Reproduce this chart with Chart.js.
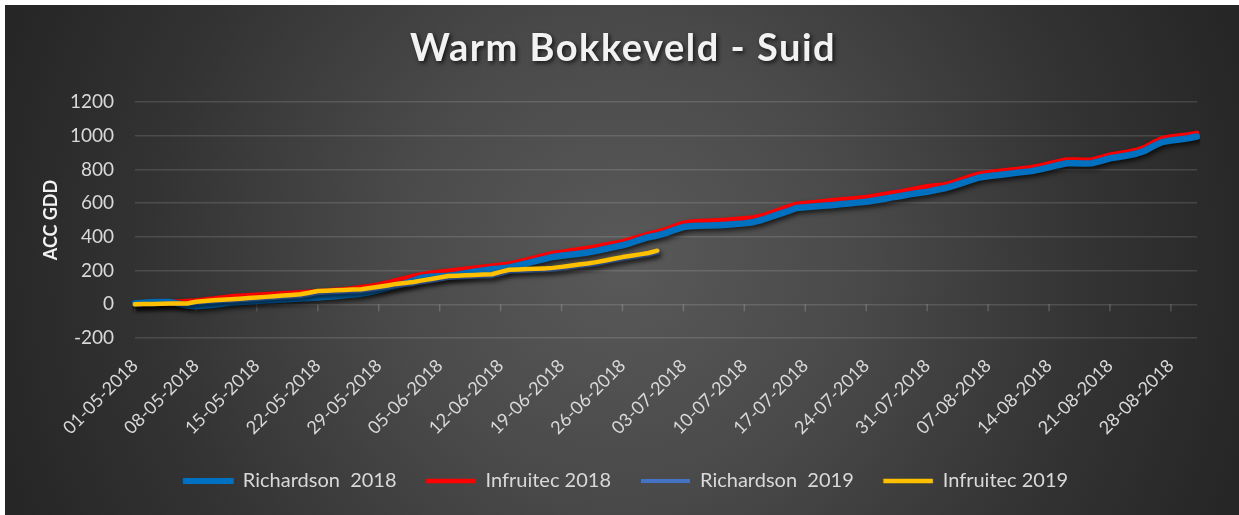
<!DOCTYPE html>
<html>
<head>
<meta charset="utf-8">
<script src="https://cdn.jsdelivr.net/npm/chart.js@4.4.1/dist/chart.umd.min.js"></script>
<style>
  html, body { margin: 0; padding: 0; background: #ffffff; }
  #wrap {
    position: absolute; left: 5px; top: 5px; width: 1234px; height: 510px;
    background: radial-gradient(circle at 50% 50%, #595959 0px, #4a4a4a 230px, #333333 470px, #262626 650px);
  }
</style>
</head>
<body>
<div id="wrap"><canvas id="c"></canvas></div>
<script>
const chartTitle = 'Warm Bokkeveld - Suid';
const yAxisTitle = 'ACC GDD';
const seriesNames = ['Richardson  2018', 'Infruitec 2018', 'Richardson  2019', 'Infruitec 2019'];

const categories = [
 '01-05-2018','02-05-2018','03-05-2018','04-05-2018','05-05-2018','06-05-2018','07-05-2018','08-05-2018','09-05-2018','10-05-2018',
 '11-05-2018','12-05-2018','13-05-2018','14-05-2018','15-05-2018','16-05-2018','17-05-2018','18-05-2018','19-05-2018','20-05-2018',
 '21-05-2018','22-05-2018','23-05-2018','24-05-2018','25-05-2018','26-05-2018','27-05-2018','28-05-2018','29-05-2018','30-05-2018','31-05-2018',
 '01-06-2018','02-06-2018','03-06-2018','04-06-2018','05-06-2018','06-06-2018','07-06-2018','08-06-2018','09-06-2018','10-06-2018',
 '11-06-2018','12-06-2018','13-06-2018','14-06-2018','15-06-2018','16-06-2018','17-06-2018','18-06-2018','19-06-2018','20-06-2018',
 '21-06-2018','22-06-2018','23-06-2018','24-06-2018','25-06-2018','26-06-2018','27-06-2018','28-06-2018','29-06-2018','30-06-2018',
 '01-07-2018','02-07-2018','03-07-2018','04-07-2018','05-07-2018','06-07-2018','07-07-2018','08-07-2018','09-07-2018','10-07-2018',
 '11-07-2018','12-07-2018','13-07-2018','14-07-2018','15-07-2018','16-07-2018','17-07-2018','18-07-2018','19-07-2018','20-07-2018',
 '21-07-2018','22-07-2018','23-07-2018','24-07-2018','25-07-2018','26-07-2018','27-07-2018','28-07-2018','29-07-2018','30-07-2018','31-07-2018',
 '01-08-2018','02-08-2018','03-08-2018','04-08-2018','05-08-2018','06-08-2018','07-08-2018','08-08-2018','09-08-2018','10-08-2018',
 '11-08-2018','12-08-2018','13-08-2018','14-08-2018','15-08-2018','16-08-2018','17-08-2018','18-08-2018','19-08-2018','20-08-2018',
 '21-08-2018','22-08-2018','23-08-2018','24-08-2018','25-08-2018','26-08-2018','27-08-2018','28-08-2018','29-08-2018','30-08-2018','31-08-2018'
];

// labels shown on the category axis
const tickLabels = ['01-05-2018','08-05-2018','15-05-2018','22-05-2018','29-05-2018','05-06-2018','12-06-2018','19-06-2018','26-06-2018',
 '03-07-2018','10-07-2018','17-07-2018','24-07-2018','31-07-2018','07-08-2018','14-08-2018','21-08-2018','28-08-2018'];

const yTicks = [-200, 0, 200, 400, 600, 800, 1000, 1200];

const richardson2018 = [
 5,9,12,13,14,4,-8,-12,-8,-3,3,
 10,13,16,20,24,26,28,31,34,37,
 40,44,48,53,58,63,72,84,98,110,
 124,140,158,164,167,170,176,184,193,201,
 208,213,218,230,243,256,268,281,288,294,
 300,307,317,328,339,350,365,382,398,408,
 422,442,458,464,466,467,469,472,476,480,
 487,500,518,535,552,571,576,580,584,588,
 593,598,603,608,616,625,634,642,652,660,
 667,678,688,702,719,736,752,760,766,772,
 778,784,790,800,812,825,836,837,835,837,
 851,866,874,883,893,910,938,962,972,978,
 985,995
];

const infruitec2018 = [
 0,3,6,9,12,14,17,20,26,32,38,
 44,47,50,53,57,60,63,66,69,72,
 75,79,83,87,92,99,106,115,126,140,
 152,165,176,184,190,196,202,208,214,220,
 226,232,238,250,262,275,288,301,308,316,
 323,331,340,350,360,370,385,400,415,428,
 442,462,480,488,491,493,495,499,503,507,
 512,522,540,558,576,592,598,603,609,614,
 618,623,628,633,641,650,659,667,677,687,
 697,703,708,722,740,757,772,780,786,792,
 798,804,810,820,832,845,856,856,854,856,
 870,885,893,902,912,930,958,982,992,998,
 1004,1014
];

const richardson2019 = [
 0,0,0,1,2,2,3,9,13,16,19,
 21,24,27,30,34,37,41,45,48,56,
 66,70,72,74,76,78,84,92,100,109,
 115,121,130,138,147,156,159,161,163,165,
 167,180,193,196,198,200,202,205,211,218,
 225,231,239,249,259,269,277,285,293,306
];

const infruitec2019 = [
 0,1,2,3,4,4,5,15,20,24,27,
 30,33,37,40,44,48,52,55,59,68,
 79,81,83,85,87,89,96,104,112,121,
 126,132,142,150,159,168,170,172,174,176,
 178,192,205,207,209,211,213,216,222,229,
 236,242,250,260,270,280,288,296,304,318
];

const FONT = 'Lato, "Open Sans", sans-serif';

const lineShadow = {
  id: 'lineShadow',
  beforeDatasetDraw(chart) {
    const ctx = chart.ctx;
    ctx.save();
    ctx.shadowColor = 'rgba(0,0,0,0.6)';
    ctx.shadowBlur = 5;
    ctx.shadowOffsetX = 2;
    ctx.shadowOffsetY = 3;
  },
  afterDatasetDraw(chart) { chart.ctx.restore(); }
};

const zeroAxisTicks = {
  id: 'zeroAxisTicks',
  beforeDatasetsDraw(chart) {
    const ctx = chart.ctx, xs = chart.scales.x, ys = chart.scales.y;
    const y0 = ys.getPixelForValue(0);
    ctx.save();
    ctx.strokeStyle = 'rgba(255,255,255,0.18)';
    ctx.lineWidth = 1.5;
    categories.forEach((c, i) => {
      if (tickLabels.indexOf(c) === -1) return;
      const x = xs.getPixelForValue(i);
      ctx.beginPath(); ctx.moveTo(x, y0); ctx.lineTo(x, y0 + 7); ctx.stroke();
    });
    ctx.restore();
  }
};

const legendShift = {
  id: 'legendShift',
  afterLayout(chart) {
    if (chart.legend) { chart.legend.left += 25; chart.legend.right += 25; }
  }
};

const titleDraw = {
  id: 'titleDraw',
  afterDraw(chart) {
    const ctx = chart.ctx;
    ctx.save();
    ctx.font = 'bold 38px ' + FONT;
    ctx.fillStyle = '#f2f2f2';
    ctx.textAlign = 'center';
    ctx.textBaseline = 'middle';
    try { ctx.letterSpacing = '1.5px'; } catch (e) {}
    ctx.shadowColor = 'rgba(0,0,0,0.7)';
    ctx.shadowBlur = 4;
    ctx.shadowOffsetX = 2;
    ctx.shadowOffsetY = 2;
    ctx.fillText(chartTitle, chart.width / 2 + 1, 44);
    ctx.restore();
  }
};

const colors = ['#0070C0', '#FF0000', '#4472C4', '#FFC000'];
const widths = [6.5, 5.5, 4, 4.5];
const orders = [3, 4, 2, 1];
const values = [richardson2018, infruitec2018, richardson2019, infruitec2019];

new Chart(document.getElementById('c'), {
  type: 'line',
  data: {
    labels: categories,
    datasets: values.map((v, i) => ({
      label: seriesNames[i],
      data: v,
      borderColor: colors[i],
      backgroundColor: colors[i],
      borderWidth: widths[i],
      pointRadius: 0,
      pointHoverRadius: 0,
      tension: 0,
      fill: false,
      borderCapStyle: 'round',
      borderJoinStyle: 'round',
      order: orders[i]
    }))
  },
  options: {
    responsive: true,
    maintainAspectRatio: false,
    animation: false,
    layout: { padding: { left: 0, right: 42, top: 97, bottom: 14 } },
    plugins: {
      title: { display: false },
      tooltip: { enabled: false },
      legend: {
        position: 'bottom',
        labels: {
          color: '#d9d9d9',
          font: { family: FONT, size: 20 },
          boxWidth: 49,
          boxHeight: 4,
          padding: 30,
          sort: (a, b) => a.datasetIndex - b.datasetIndex,
          generateLabels(chart) {
            const items = Chart.defaults.plugins.legend.labels.generateLabels(chart);
            return items.map(it => {
              const i = it.datasetIndex;
              it.fillStyle = colors[i];
              it.strokeStyle = colors[i];
              it.lineWidth = i === 0 ? 2 : (i === 2 ? 0 : 0.5);
              return it;
            });
          }
        }
      }
    },
    scales: {
      x: {
        type: 'category',
        offset: false,
        grid: { display: false },
        border: { display: false },
        afterFit(scale) { scale.height = 103; },
        ticks: {
          autoSkip: false,
          maxRotation: 45,
          minRotation: 45,
          padding: 9,
          color: '#d9d9d9',
          font: { family: FONT, size: 18 },
          callback(val, idx) {
            const lab = categories[idx];
            return tickLabels.indexOf(lab) !== -1 ? lab : null;
          }
        }
      },
      y: {
        min: yTicks[0],
        max: yTicks[yTicks.length - 1],
        afterFit(scale) { scale.width = 130; },
        afterBuildTicks(scale) { scale.ticks = yTicks.map(v => ({ value: v })); },
        grid: { color: 'rgba(255,255,255,0.13)', lineWidth: 1.5, drawTicks: false },
        border: { display: false },
        ticks: {
          padding: 21,
          color: '#d9d9d9',
          font: { family: FONT, size: 19 },
          callback: (v) => String(v)
        },
        title: {
          display: true,
          text: yAxisTitle,
          color: '#f2f2f2',
          font: { family: FONT, size: 18, weight: 'bold' },
          padding: { top: 35, bottom: 0 }
        }
      }
    }
  },
  plugins: [lineShadow, zeroAxisTicks, legendShift, titleDraw]
});
</script>
</body>
</html>
